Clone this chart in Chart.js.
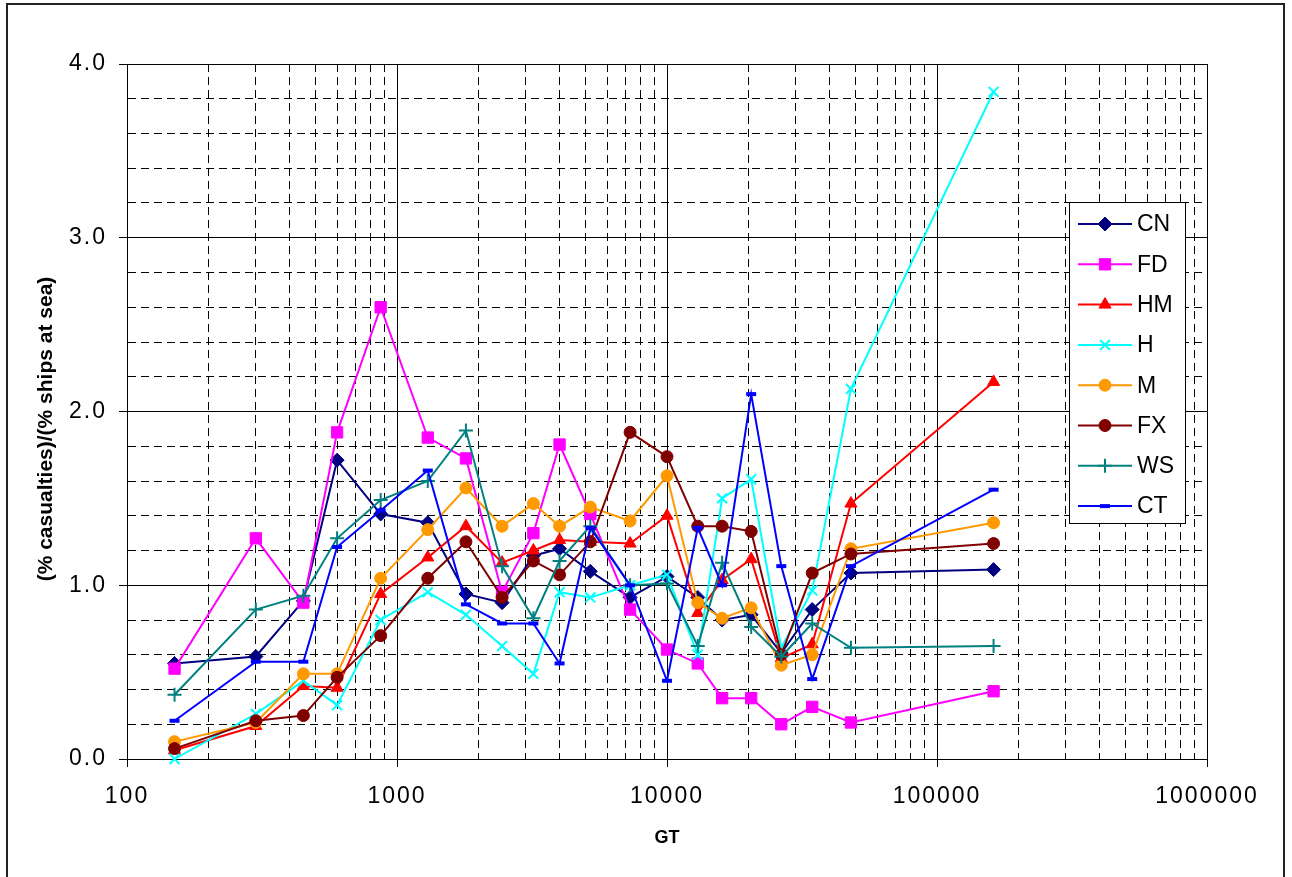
<!DOCTYPE html>
<html>
<head>
<meta charset="utf-8">
<script src="https://cdn.jsdelivr.net/npm/chart.js@4"></script>
<style>
  body { margin: 0; background: #fff; }
  canvas { display: block; }
</style>
</head>
<body>
<canvas id="myChart" width="1292" height="877"></canvas>
<script>
// GT classes (x) and the ratio for each ship type
const gtValues = [150, 300, 450, 600, 870, 1300, 1800, 2450, 3200, 4000, 5200, 7300, 10000, 13000, 16000, 20500, 26500, 34500, 48000, 162000];

const cnValues = [0.55, 0.59, 0.91, 1.72, 1.41, 1.36, 0.95, 0.90, 1.17, 1.21, 1.08, 0.93, 1.05, 0.93, 0.80, 0.83, 0.61, 0.86, 1.07, 1.09];
const fdValues = [0.52, 1.27, 0.90, 1.88, 2.60, 1.85, 1.73, 0.96, 1.30, 1.81, 1.41, 0.86, 0.63, 0.55, 0.35, 0.35, 0.20, 0.30, 0.21, 0.39];
const hmValues = [0.05, 0.19, 0.42, 0.41, 0.95, 1.16, 1.34, 1.13, 1.20, 1.26, 1.25, 1.24, 1.40, 0.84, 1.03, 1.15, 0.58, 0.66, 1.47, 2.17];
const hValues  = [0.00, 0.26, 0.45, 0.31, 0.80, 0.96, 0.83, 0.65, 0.49, 0.96, 0.93, 1.00, 1.06, 0.60, 1.50, 1.61, 0.64, 0.97, 2.13, 3.84];
const mValues  = [0.10, 0.21, 0.49, 0.49, 1.04, 1.32, 1.56, 1.34, 1.47, 1.34, 1.45, 1.37, 1.63, 0.90, 0.81, 0.87, 0.54, 0.60, 1.21, 1.36];
const fxValues = [0.06, 0.22, 0.25, 0.47, 0.71, 1.04, 1.25, 0.93, 1.14, 1.06, 1.25, 1.88, 1.74, 1.34, 1.34, 1.31, 0.60, 1.07, 1.18, 1.24];
const wsValues = [0.37, 0.86, 0.94, 1.27, 1.49, 1.60, 1.89, 1.11, 0.81, 1.14, 1.34, 1.00, 1.01, 0.65, 1.13, 0.76, 0.59, 0.78, 0.64, 0.65];
const ctValues = [0.22, 0.56, 0.56, 1.22, 1.43, 1.66, 0.89, 0.78, 0.78, 0.55, 1.33, 1.00, 0.45, 1.33, 1.00, 2.10, 1.11, 0.46, 1.11, 1.55];

const seriesNames = ['CN', 'FD', 'HM', 'H', 'M', 'FX', 'WS', 'CT'];
const seriesValues = [cnValues, fdValues, hmValues, hValues, mValues, fxValues, wsValues, ctValues];

const xTickLabels = ['100', '1000', '10000', '100000', '1000000'];
const yTickLabels = ['0.0', '1.0', '2.0', '3.0', '4.0'];

// look of each series (Excel style markers)
const seriesStyle = [
  { color: '#000080', point: 'rectRot', r: 7, bw: 1 },
  { color: '#FF00FF', point: 'rect', r: 8, bw: 1 },
  { color: '#FF0000', point: 'triangle', r: 7, bw: 1 },
  { color: '#00FFFF', point: 'crossRot', r: 7, bw: 2 },
  { color: '#FF9900', point: 'circle', r: 6, bw: 1 },
  { color: '#800000', point: 'circle', r: 6, bw: 1 },
  { color: '#008080', point: 'cross', r: 7, bw: 2 },
  { color: '#0000FF', point: 'line', r: 5, bw: 4 }
];

const FONT = 'Liberation Sans';

function isPow10(v) {
  const l = Math.log10(v);
  return Math.abs(l - Math.round(l)) < 1e-9;
}
function isWhole(v) {
  return Math.abs(v - Math.round(v)) < 1e-6;
}

const datasets = seriesNames.map((name, i) => {
  const st = seriesStyle[i];
  return {
    label: name,
    data: gtValues.map((x, j) => ({ x: x, y: seriesValues[i][j] })),
    borderColor: st.color,
    backgroundColor: st.color,
    borderWidth: 2,
    pointStyle: st.point,
    pointRadius: st.r,
    pointBorderWidth: st.bw,
    pointBackgroundColor: st.color,
    pointBorderColor: st.color,
    tension: 0,
    clip: false,
    order: seriesNames.length - i
  };
});

const frame = {
  id: 'frame',
  beforeDraw(chart) {
    const ctx = chart.ctx;
    ctx.save();
    ctx.fillStyle = '#fff';
    ctx.fillRect(0, 0, chart.width, chart.height);
    ctx.strokeStyle = '#222';
    ctx.lineWidth = 2;
    ctx.strokeRect(7, 4, 1277, 1000);
    ctx.restore();
  },
  afterDraw(chart) {
    chart.ctx.letterSpacing = '0px';
  }
};

const legendBox = {
  id: 'legendBox',
  afterDatasetsDraw(chart) {
    const ctx = chart.ctx;
    const left = 1069, top = 202, w = 116, h = 321;
    ctx.save();
    ctx.fillStyle = '#fff';
    ctx.fillRect(left, top, w, h);
    ctx.strokeStyle = '#000';
    ctx.lineWidth = 1;
    ctx.strokeRect(left + 0.5, top + 0.5, w, h);
    chart.data.datasets.forEach((ds, i) => {
      const y = top + 22 + i * 40.3;
      ctx.strokeStyle = ds.borderColor;
      ctx.lineWidth = 2;
      ctx.beginPath();
      ctx.moveTo(left + 9, y);
      ctx.lineTo(left + 63, y);
      ctx.stroke();
      ctx.fillStyle = ds.pointBackgroundColor;
      ctx.strokeStyle = ds.pointBorderColor;
      ctx.lineWidth = ds.pointBorderWidth;
      if (Chart.helpers && Chart.helpers.drawPoint) {
        Chart.helpers.drawPoint(ctx, { pointStyle: ds.pointStyle, radius: ds.pointRadius, rotation: 0, borderWidth: ds.pointBorderWidth }, left + 36, y);
      }
      ctx.fillStyle = '#000';
      ctx.font = '23px "' + FONT + '"';
      ctx.textBaseline = 'middle';
      ctx.textAlign = 'left';
      ctx.fillText(ds.label, left + 68, y + 1);
    });
    ctx.restore();
    // tick labels come after this (ticks.z = 1), spaced out like the Excel ones
    ctx.letterSpacing = '2px';
  }
};

const gridOpts = {
  color: '#000',
  lineWidth: 1,
  tickLength: 8,
  tickWidth: 1
};

const config = {
  type: 'line',
  data: { datasets: datasets },
  options: {
    responsive: false,
    animation: false,
    devicePixelRatio: 1,
    layout: { padding: { left: 10, right: 85, top: 64, bottom: 0 } },
    plugins: {
      legend: { display: false },
      tooltip: { enabled: false }
    },
    scales: {
      x: {
        type: 'logarithmic',
        min: 100,
        max: 1000000,
        afterFit: (s) => { s.height = 118; },
        afterBuildTicks: (s) => {
          const t = [];
          for (let e = 2; e < 6; e++) {
            for (let m = 1; m < 10; m++) t.push({ value: m * Math.pow(10, e) });
          }
          t.push({ value: 1000000 });
          s.ticks = t;
        },
        ticks: {
          z: 1,
          autoSkip: false,
          maxRotation: 0,
          minRotation: 0,
          padding: 16,
          color: '#000',
          font: { family: FONT, size: 23 },
          callback: (v) => isPow10(v) ? xTickLabels[Math.round(Math.log10(v)) - 2] : ''
        },
        grid: Object.assign({}, gridOpts, {
          tickColor: (c) => (c.tick && isPow10(c.tick.value)) ? '#000' : 'rgba(0,0,0,0)'
        }),
        border: {
          display: true,
          color: '#000',
          width: 1,
          dash: (c) => (c.tick && !isPow10(c.tick.value)) ? [8, 5] : []
        },
        title: {
          display: true,
          text: 'GT',
          color: '#000',
          font: { family: FONT, size: 18, weight: 'bold' },
          padding: { top: 0, bottom: 28 }
        }
      },
      y: {
        min: 0,
        max: 4,
        afterFit: (s) => { s.width = 117; },
        ticks: {
          z: 1,
          stepSize: 0.2,
          autoSkip: false,
          padding: 12,
          color: '#000',
          font: { family: FONT, size: 23 },
          callback: (v) => isWhole(v) ? yTickLabels[Math.round(v)] : ''
        },
        grid: Object.assign({}, gridOpts, {
          tickColor: (c) => (c.tick && isWhole(c.tick.value)) ? '#000' : 'rgba(0,0,0,0)'
        }),
        border: {
          display: true,
          color: '#000',
          width: 1,
          dash: (c) => (c.tick && !isWhole(c.tick.value)) ? [8, 5] : []
        },
        title: {
          display: true,
          // trailing spaces push the centred text down a little, as in the original
          text: '(% casualties)/(% ships at sea)      ',
          color: '#000',
          font: { family: FONT, size: 21, weight: 'bold' },
          padding: { top: 24, bottom: 0 }
        }
      }
    }
  },
  plugins: [frame, legendBox]
};

new Chart(document.getElementById('myChart'), config);
</script>
</body>
</html>
